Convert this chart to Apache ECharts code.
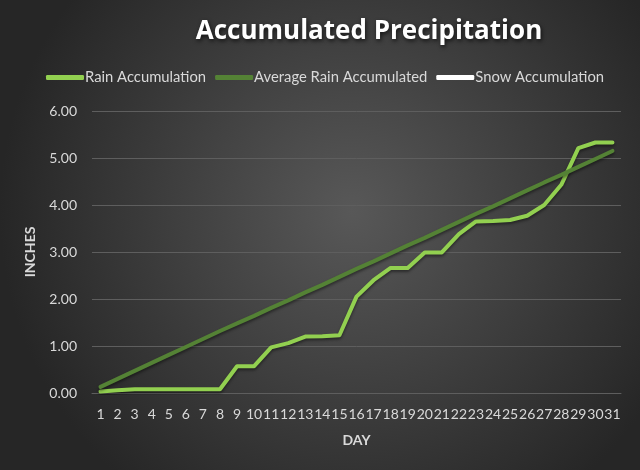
<!DOCTYPE html>
<html>
<head>
<meta charset="utf-8">
<script src="https://cdn.jsdelivr.net/npm/echarts@6/dist/echarts.min.js"></script>
<style>
  html, body { margin: 0; padding: 0; background: #2b2b2b; }
  #chart { width: 640px; height: 470px; }
</style>
</head>
<body>
<div id="chart"></div>
<script>
// Days of the month
const days = ['1', '2', '3', '4', '5', '6', '7', '8', '9', '10', '11', '12', '13', '14', '15', '16',
  '17', '18', '19', '20', '21', '22', '23', '24', '25', '26', '27', '28', '29', '30', '31'];

// Inches
const rainAccumulation = [0.03, 0.06, 0.08, 0.08, 0.08, 0.08, 0.08, 0.08, 0.57, 0.57, 0.97, 1.06,
  1.20, 1.21, 1.23, 2.05, 2.40, 2.66, 2.66, 2.99, 2.99, 3.38, 3.65, 3.66, 3.68, 3.77, 4.00, 4.43,
  5.21, 5.33, 5.33];
const averageRain = [0.13, 0.30, 0.47, 0.64, 0.81, 0.98, 1.15, 1.32, 1.48, 1.64, 1.81, 1.97,
  2.14, 2.30, 2.47, 2.64, 2.80, 2.97, 3.14, 3.30, 3.47, 3.64, 3.81, 3.97, 4.14, 4.31, 4.48, 4.64,
  4.81, 4.98, 5.15];
const snowAccumulation = [];

const labelColor = '#d9d9d9';
const font = 'Lato';

const chart = echarts.init(document.getElementById('chart'));

const lineSeries = (name, data, color) => ({
  name: name,
  type: 'line',
  data: data,
  symbol: 'none',
  lineStyle: {
    color: color,
    width: 4,
    cap: 'round',
    join: 'round',
    shadowColor: 'rgba(0, 0, 0, 0.45)',
    shadowBlur: 3,
    shadowOffsetY: 2
  },
  itemStyle: { color: color }
});

chart.setOption({
  backgroundColor: {
    type: 'radial',
    x: 0.55, y: 0.45, r: 0.75,
    colorStops: [
      { offset: 0, color: '#585858' },
      { offset: 1, color: '#262626' }
    ]
  },
  animation: false,
  title: {
    text: 'Accumulated Precipitation',
    left: 364,
    top: 14,
    textAlign: 'center',
    textStyle: {
      color: '#ffffff',
      fontFamily: 'Open Sans',
      fontWeight: 'bold',
      fontSize: 26,
      textShadowColor: 'rgba(0, 0, 0, 0.7)',
      textShadowBlur: 4,
      textShadowOffsetX: 1,
      textShadowOffsetY: 2
    }
  },
  legend: {
    left: 41,
    top: 65,
    itemWidth: 38,
    itemHeight: 5,
    itemGap: 9,
    icon: 'roundRect',
    textStyle: { color: labelColor, fontFamily: font, fontSize: 14.8, padding: [0, 0, 0, -4] },
    data: ['Rain Accumulation', 'Average Rain Accumulated', 'Snow Accumulation']
  },
  grid: { left: 92, right: 19, top: 111, bottom: 77 },
  xAxis: {
    type: 'category',
    data: days,
    boundaryGap: true,
    name: 'DAY',
    nameLocation: 'middle',
    nameGap: 40,
    nameTextStyle: { color: labelColor, fontFamily: font, fontWeight: 'bold', fontSize: 14 },
    axisLine: { lineStyle: { color: '#5e5e5e', width: 1 } },
    axisTick: { show: false },
    axisLabel: { color: labelColor, fontFamily: font, fontSize: 14, interval: 0, margin: 14 }
  },
  yAxis: {
    type: 'value',
    min: 0,
    max: 6,
    interval: 1,
    name: 'INCHES',
    nameLocation: 'middle',
    nameGap: 55,
    nameRotate: 90,
    nameTextStyle: { color: labelColor, fontFamily: font, fontWeight: 'bold', fontSize: 14 },
    axisLine: { show: false },
    axisTick: { show: false },
    splitLine: { lineStyle: { color: '#5e5e5e', width: 1 } },
    axisLabel: {
      color: labelColor,
      fontFamily: font,
      fontSize: 14,
      margin: 15,
      formatter: v => v.toFixed(2)
    }
  },
  series: [
    lineSeries('Rain Accumulation', rainAccumulation, '#92d050'),
    lineSeries('Average Rain Accumulated', averageRain, '#548235'),
    lineSeries('Snow Accumulation', snowAccumulation, '#ffffff')
  ]
});
</script>
</body>
</html>
